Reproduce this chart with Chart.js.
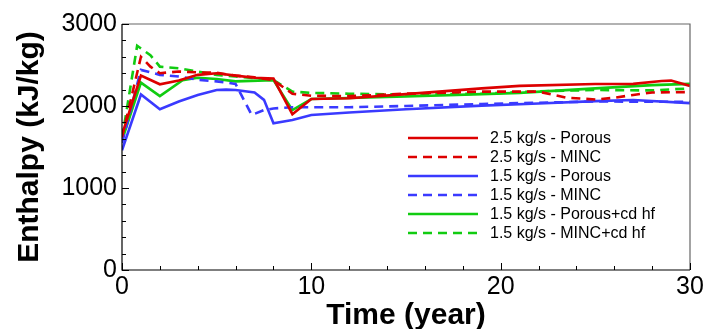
<!DOCTYPE html>
<html>
<head>
<meta charset="utf-8">
<title>Enthalpy vs time</title>
<script src="https://cdn.jsdelivr.net/npm/chart.js@4.4.1/dist/chart.umd.min.js"></script>
<style>
  html, body { margin: 0; padding: 0; background: #fff; }
  #wrap { width: 708px; height: 329px; }
</style>
</head>
<body>
<div id="wrap"><canvas id="chart" width="708" height="329"></canvas></div>
<script>
// values (time in years, enthalpy in kJ/kg)
const xTicks = [0, 10, 20, 30];
const yTicks = [0, 1000, 2000, 3000];

const t25Porous = [0, 1, 2, 3, 4, 5, 6, 7, 8, 9, 10, 12, 15, 19, 21, 25, 27, 28.5, 29, 30];
const h25Porous = [1650, 2370, 2265, 2310, 2380, 2400, 2370, 2345, 2335, 1900, 2085, 2095, 2145, 2215, 2245, 2268, 2270, 2305, 2310, 2245];

const t25Minc = [0, 1, 1.5, 2, 3, 4, 5, 6, 7, 8, 9, 10, 12, 15, 19, 22, 23.5, 25, 26, 27, 28, 30];
const h25Minc = [1620, 2600, 2480, 2400, 2420, 2410, 2405, 2370, 2350, 2315, 2150, 2125, 2120, 2150, 2175, 2175, 2100, 2080, 2100, 2135, 2165, 2170];

const t15Porous = [0, 1, 2, 3, 4, 5, 5.5, 6, 7, 7.5, 8, 9, 10, 12, 15, 19, 22, 25, 27, 30];
const h15Porous = [1460, 2140, 1960, 2055, 2135, 2195, 2200, 2195, 2165, 2075, 1790, 1830, 1890, 1920, 1960, 2005, 2030, 2060, 2073, 2035];

const t15Minc = [0, 1, 2, 3, 4, 5, 6, 6.3, 6.85, 7.5, 8, 9, 12, 15, 19, 25, 30];
const h15Minc = [1550, 2440, 2380, 2360, 2320, 2300, 2270, 2135, 1890, 1950, 1970, 1985, 1985, 2000, 2025, 2055, 2050];

const t15PorousHf = [0, 1, 2, 3.2, 4, 5, 6, 8, 9, 10, 15, 19, 21, 25, 28, 30];
const h15PorousHf = [1580, 2285, 2120, 2315, 2345, 2330, 2300, 2315, 1950, 2085, 2115, 2145, 2160, 2215, 2255, 2270];

const t15MincHf = [0, 0.8, 1.5, 2, 3, 4, 5, 6, 7, 8, 9, 10, 12, 15, 19, 22, 25, 28, 30];
const h15MincHf = [1600, 2735, 2620, 2480, 2460, 2420, 2380, 2360, 2340, 2315, 2175, 2160, 2150, 2140, 2150, 2180, 2195, 2190, 2215];

const RED = '#dd0000';
const BLUE = '#3a3aff';
const GREEN = '#11cc11';
const DASH = [9, 6];

const pts = (t, h) => t.map((x, i) => ({ x: x, y: h[i] }));

const series = (label, t, h, color, dashed) => ({
    label: label,
    data: pts(t, h),
    borderColor: color,
    backgroundColor: color,
    borderWidth: 2.6,
    borderDash: dashed ? DASH : [],
    pointRadius: 0,
    tension: 0,
    fill: false
});

const FONT = '"Liberation Sans", Arial, sans-serif';

// frame, inward ticks and the in-plot legend
const decor = {
    id: 'decor',
    afterDatasetsDraw(chart) {
        const ctx = chart.ctx;
        const a = chart.chartArea;
        const xs = chart.scales.x, ys = chart.scales.y;
        ctx.save();
        ctx.lineWidth = 1.2;
        ctx.strokeStyle = '#666';
        ctx.beginPath();
        ctx.moveTo(a.left, a.top); ctx.lineTo(a.right, a.top); ctx.lineTo(a.right, a.bottom);
        ctx.stroke();
        ctx.strokeStyle = '#000';
        ctx.beginPath();
        ctx.moveTo(a.left, a.top); ctx.lineTo(a.left, a.bottom); ctx.lineTo(a.right, a.bottom);
        ctx.stroke();

        ctx.lineWidth = 1;
        ctx.beginPath();
        for (let v = 0; v <= 3000; v += 200) {
            const y = Math.round(ys.getPixelForValue(v)) + 0.5;
            const len = v % 1000 === 0 ? 7 : 4;
            ctx.moveTo(a.left, y); ctx.lineTo(a.left + len, y);
        }
        for (let v = 0; v <= 30; v += 2) {
            const x = Math.round(xs.getPixelForValue(v)) + 0.5;
            const len = v % 10 === 0 ? 7 : 4;
            ctx.moveTo(x, a.bottom); ctx.lineTo(x, a.bottom - len);
        }
        ctx.stroke();
        ctx.restore();
    },
    afterDraw(chart) {
        const ctx = chart.ctx;
        const a = chart.chartArea;
        const x0 = a.left + 286, y0 = a.top + 114, rowH = 19;
        ctx.save();
        ctx.font = '16px ' + FONT;
        ctx.textBaseline = 'middle';
        ctx.fillStyle = '#000';
        chart.data.datasets.forEach((ds, i) => {
            const y = y0 + i * rowH;
            ctx.strokeStyle = ds.borderColor;
            ctx.lineWidth = 2.6;
            ctx.setLineDash(ds.borderDash);
            ctx.beginPath();
            ctx.moveTo(x0, y); ctx.lineTo(x0 + 70, y);
            ctx.stroke();
            ctx.setLineDash([]);
            ctx.fillText(ds.label, x0 + 82, y + 1);
        });
        ctx.restore();
    }
};

new Chart(document.getElementById('chart'), {
    type: 'line',
    data: {
        datasets: [
            series('2.5 kg/s - Porous', t25Porous, h25Porous, RED, false),
            series('2.5 kg/s - MINC', t25Minc, h25Minc, RED, true),
            series('1.5 kg/s - Porous', t15Porous, h15Porous, BLUE, false),
            series('1.5 kg/s - MINC', t15Minc, h15Minc, BLUE, true),
            series('1.5 kg/s - Porous+cd hf', t15PorousHf, h15PorousHf, GREEN, false),
            series('1.5 kg/s - MINC+cd hf', t15MincHf, h15MincHf, GREEN, true)
        ]
    },
    options: {
        responsive: false,
        animation: false,
        devicePixelRatio: 1,
        layout: { padding: { top: 24, right: 18, left: 0, bottom: 0 } },
        plugins: { legend: { display: false }, tooltip: { enabled: false } },
        scales: {
            x: {
                type: 'linear',
                min: 0,
                max: 30,
                afterBuildTicks: (s) => { s.ticks = xTicks.map(v => ({ value: v })); },
                afterFit: (s) => { s.height = 59; },
                grid: { display: false, drawTicks: false },
                border: { display: false },
                ticks: { font: { family: FONT, size: 25 }, color: '#000', padding: 2, maxRotation: 0,
                         callback: (v) => String(v) },
                title: {
                    display: true,
                    text: 'Time (year)',
                    color: '#000',
                    font: { family: FONT, size: 30, weight: 'bold', lineHeight: 0.8 },
                    padding: { top: 0, bottom: 1 }
                }
            },
            y: {
                min: 0,
                max: 3000,
                afterBuildTicks: (s) => { s.ticks = yTicks.map(v => ({ value: v })); },
                afterFit: (s) => { s.width = 122; },
                grid: { display: false, drawTicks: false },
                border: { display: false },
                ticks: { font: { family: FONT, size: 25 }, color: '#000', padding: 5,
                         callback: (v) => String(v) },
                title: {
                    display: true,
                    text: 'Enthalpy (kJ/kg)',
                    color: '#000',
                    font: { family: FONT, size: 30, weight: 'bold', lineHeight: 0.8 },
                    padding: { top: 18, bottom: 0 }
                }
            }
        }
    },
    plugins: [decor]
});
</script>
</body>
</html>
